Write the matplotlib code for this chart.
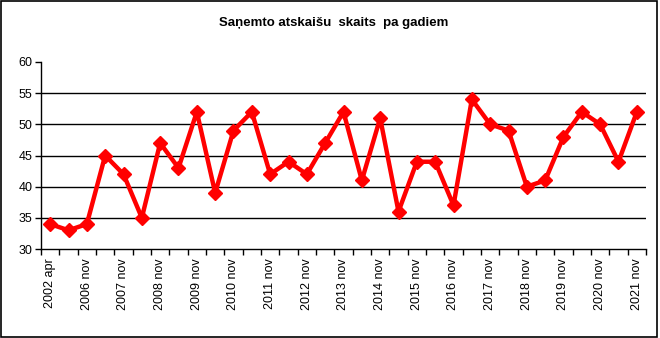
import matplotlib.pyplot as plt
from matplotlib.patches import Rectangle
import numpy as np

periods = ['2002 apr', '2006 apr', '2006 nov']
for year in range(2007, 2022):
    periods += [str(year) + ' apr', str(year) + ' nov']
counts = [34, 33, 34, 45, 42, 35, 47, 43, 52, 39, 49, 52, 42, 44, 42, 47,
          52, 41, 51, 36, 44, 44, 37, 54, 50, 49, 40, 41, 48, 52, 50, 44, 52]
y_ticks = [30, 35, 40, 45, 50, 55, 60]
title = 'Saņemto atskaišu  skaits  pa gadiem'

plt.rcParams['font.family'] = ['Liberation Sans', 'DejaVu Sans']

fig = plt.figure(figsize=(6.6, 3.38), dpi=100)
fig.patches.append(Rectangle((0.001, 0.002), 656 / 660, 0.995, transform=fig.transFigure,
                             fill=False, edgecolor='black', linewidth=1.2))
ax = fig.add_axes([41 / 660, 1 - 249 / 338, 605 / 660, 187 / 338])

x = np.arange(len(counts))
for v in y_ticks[1:-1]:
    ax.axhline(v, color='black', linewidth=1, zorder=1)
ax.plot(x, counts, color='#ff0000', linewidth=3.2, marker='D', markersize=7.5,
        zorder=3, clip_on=False)

ax.set_xlim(-0.5, len(counts) - 0.5)
ax.set_ylim(30, 60)
ax.set_yticks(y_ticks)
ax.set_xticks(np.arange(-0.5, len(counts)))
ax.set_xticklabels([])
ax.set_xticks(x[::2], minor=True)
ax.set_xticklabels(periods[::2], minor=True, rotation=90, fontsize=9)
ax.tick_params(axis='x', which='major', direction='out', length=4, width=1)
ax.tick_params(axis='x', which='minor', length=0, pad=7)
ax.tick_params(axis='y', direction='out', length=4, width=1, labelsize=9, pad=2)

for side in ['top', 'right']:
    ax.spines[side].set_visible(False)
for side in ['left', 'bottom']:
    ax.spines[side].set_linewidth(1)

fig.text(333.5 / 660, 0.933, title, ha='center', va='center', fontsize=9.5,
         fontweight='bold')

fig.savefig('out.png', dpi=100)
